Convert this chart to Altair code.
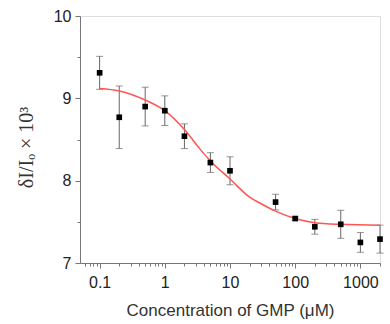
import altair as alt
import pandas as pd

# measured points
conc = [0.1, 0.2, 0.5, 1, 2, 5, 10, 50, 100, 200, 500, 1000, 2000]
resp = [9.31, 8.77, 8.90, 8.85, 8.54, 8.22, 8.12, 7.74, 7.54, 7.44, 7.47, 7.25, 7.29]
err = [0.20, 0.38, 0.235, 0.18, 0.15, 0.12, 0.17, 0.095, 0.02, 0.09, 0.17, 0.12, 0.17]

# fitted curve
fit_x = [0.1, 0.2, 0.5, 1, 2, 3.5, 5, 10, 20, 30, 50, 100, 200, 500, 2000]
fit_y = [9.12, 9.09, 8.98, 8.85, 8.62, 8.38, 8.24, 8.02, 7.80, 7.72, 7.63, 7.54, 7.49, 7.47, 7.46]

x_major = [0.1, 1, 10, 100, 1000]
x_minor = [0.06, 0.07, 0.08, 0.09,
           0.2, 0.3, 0.4, 0.5, 0.6, 0.7, 0.8, 0.9,
           2, 3, 4, 5, 6, 7, 8, 9,
           20, 30, 40, 50, 60, 70, 80, 90,
           200, 300, 400, 500, 600, 700, 800, 900, 2000]
y_major = [7, 8, 9, 10]
y_minor = [7.5, 8.5, 9.5]

df = pd.DataFrame({"conc": conc, "resp": resp, "err": err})
df["lo"] = df["resp"] - df["err"]
df["hi"] = df["resp"] + df["err"]
fit = pd.DataFrame({"x": fit_x, "y": fit_y})

xscale = alt.Scale(type="log", domain=[0.05, 2000])
yscale = alt.Scale(domain=[7, 10], nice=False, zero=False)

axis_common = dict(domainColor="#777", tickColor="#777", grid=False,
                   labelFont="Liberation Sans", labelColor="#222",
                   labelFontSize=16, titleFont="Liberation Sans",
                   titleColor="#333", titleFontWeight="normal")

xaxis = alt.Axis(values=x_major, format="~g", orient="bottom", tickSize=5,
                 labelPadding=6, title="Concentration of GMP (μM)",
                 titleFontSize=17, titleY=52, titleBaseline="alphabetic",
                 **axis_common)
yaxis = alt.Axis(values=y_major, orient="left", tickSize=5, labelPadding=4,
                 title="δI/Iₒ × 10³", titleFontSize=20, titleX=-48, titleY=131,
                 titleBaseline="alphabetic",
                 **{**axis_common, "titleFont": "Liberation Serif"})

xaxis_minor = alt.Axis(values=x_minor, orient="bottom", tickSize=3, labels=False,
                       domain=False, title=None, grid=False, tickColor="#777")
yaxis_minor = alt.Axis(values=y_minor, orient="left", tickSize=3, labels=False,
                       domain=False, title=None, grid=False, tickColor="#777")

base = alt.Chart(df)

minor = base.mark_point(opacity=0).encode(
    x=alt.X("conc:Q", scale=xscale, axis=xaxis_minor),
    y=alt.Y("resp:Q", scale=yscale, axis=yaxis_minor),
)

bars = base.mark_rule(color="#666", strokeWidth=1).encode(
    x=alt.X("conc:Q", scale=xscale, axis=xaxis),
    y=alt.Y("lo:Q", scale=yscale, axis=yaxis),
    y2="hi:Q",
)
cap_lo = base.mark_tick(color="#666", thickness=1, size=7, orient="horizontal").encode(
    x=alt.X("conc:Q", scale=xscale, axis=xaxis),
    y=alt.Y("lo:Q", scale=yscale, axis=yaxis),
)
cap_hi = base.mark_tick(color="#666", thickness=1, size=7, orient="horizontal").encode(
    x=alt.X("conc:Q", scale=xscale, axis=xaxis),
    y=alt.Y("hi:Q", scale=yscale, axis=yaxis),
)

line = alt.Chart(fit).mark_line(color="#ff5555", strokeWidth=1.5, interpolate="monotone").encode(
    x=alt.X("x:Q", scale=xscale, axis=xaxis),
    y=alt.Y("y:Q", scale=yscale, axis=yaxis),
)

pts = base.mark_square(color="black", size=32, opacity=1).encode(
    x=alt.X("conc:Q", scale=xscale, axis=xaxis),
    y=alt.Y("resp:Q", scale=yscale, axis=yaxis),
)

main = alt.layer(bars, cap_lo, cap_hi, line, pts)

chart = alt.layer(minor, main).resolve_axis(x="independent", y="independent").properties(
    width=300, height=247,
    autosize=alt.AutoSizeParams(type="none"),
    padding={"left": 80, "top": 16, "right": 10, "bottom": 61},
).configure_view(stroke=None).configure(background="white")

chart.save("out.html", embed_options={"renderer": "svg", "actions": False})
